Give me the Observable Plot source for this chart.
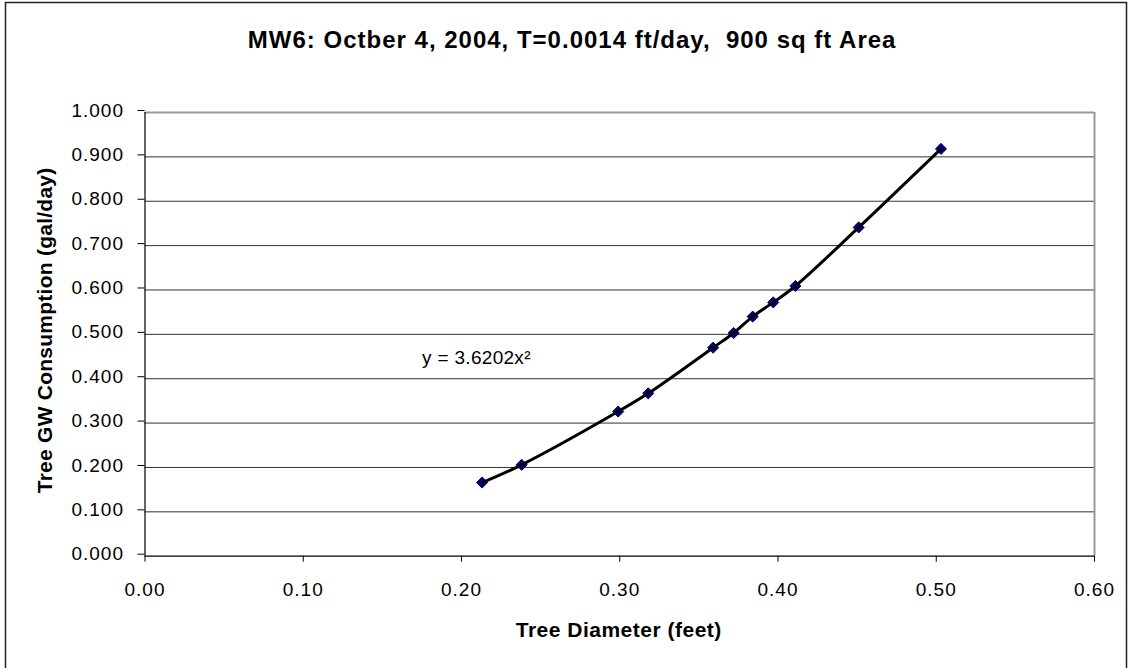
<!DOCTYPE html>
<html>
<head>
<meta charset="utf-8">
<script src="https://cdn.jsdelivr.net/npm/d3@7"></script>
<script src="https://cdn.jsdelivr.net/npm/@observablehq/plot@0.6"></script>
<style>
  html, body { margin: 0; padding: 0; background: #fff; }
  #chart { width: 1132px; height: 668px; overflow: hidden; }
</style>
</head>
<body>
<div id="chart"></div>
<script>
// ---- data ----
const diameter    = [0.213, 0.238, 0.299, 0.318, 0.359, 0.372, 0.384, 0.397, 0.411, 0.451, 0.503];
const consumption = [0.166, 0.206, 0.326, 0.367, 0.470, 0.503, 0.540, 0.572, 0.609, 0.741, 0.918];
const xTicks = [0.0, 0.1, 0.2, 0.3, 0.4, 0.5, 0.6];
const yTicks = [0.0, 0.1, 0.2, 0.3, 0.4, 0.5, 0.6, 0.7, 0.8, 0.9, 1.0];
const titleText = "MW6: Octber 4, 2004, T=0.0014 ft/day,  900 sq ft Area";
const xTitle = "Tree Diameter (feet)";
const yTitle = "Tree GW Consumption (gal/day)";
const equation = "y = 3.6202x²";

const points = diameter.map((d, i) => ({x: d, y: consumption[i]}));
const font = "Arial, 'Liberation Sans', sans-serif";

const chart = Plot.plot({
  width: 1132,
  height: 668,
  marginLeft: 144.5,
  marginRight: 38,
  marginTop: 112,
  marginBottom: 112.3,
  style: {fontFamily: font, fontSize: "19px", color: "#000", background: "#fff", letterSpacing: "1px"},
  x: {domain: [0, 0.6]},
  y: {domain: [0, 1]},
  marks: [
    Plot.ruleY(yTicks.filter(d => d > 0 && d < 1), {stroke: "#333", strokeWidth: 1}),
    Plot.ruleY([yTicks[yTicks.length - 1]], {stroke: "#999", strokeWidth: 2}),
    Plot.ruleX([xTicks[xTicks.length - 1]], {stroke: "#999", strokeWidth: 2}),
    Plot.axisX({ticks: xTicks, tickFormat: d3.format(".2f"), tickSize: 6, tickPadding: 20, label: null, fontSize: 19, stroke: "#000"}),
    Plot.axisY({ticks: yTicks, tickFormat: d3.format(".3f"), tickSize: 7, tickPadding: 14, dy: -2, label: null, fontSize: 19, stroke: "#000"}),
    Plot.ruleX([0], {stroke: "#000", strokeWidth: 1.2}),
    Plot.ruleY([0], {stroke: "#000", strokeWidth: 1.2}),
    Plot.dot(points, {x: "x", y: "y", symbol: "diamond2", r: 5, fill: "#000080", stroke: "#000080", strokeWidth: 1}),
    Plot.line(points, {x: "x", y: "y", stroke: "#000", strokeWidth: 3, curve: "catmull-rom"}),
    Plot.text([equation], {x: 0.1751, y: 0.434, text: d => d, textAnchor: "start", lineAnchor: "bottom", fontSize: 19, fill: "#000"}),
    Plot.text([titleText], {frameAnchor: "top", text: d => d, textAnchor: "middle", lineAnchor: "bottom", dx: -47.6, dy: -65, fontSize: 24, fontWeight: "bold", fill: "#000"}),
    Plot.text([xTitle], {frameAnchor: "bottom", text: d => d, textAnchor: "middle", lineAnchor: "bottom", dx: -1, dy: 81, fontSize: 21, fontWeight: "bold", fill: "#000"}),
    Plot.text([yTitle], {frameAnchor: "left", text: d => d, textAnchor: "middle", rotate: -90, lineAnchor: "bottom", dx: -92.8, dy: -4, fontSize: 21, fontWeight: "bold", fill: "#000"})
  ]
});

// letter spacing tweaks per text group
d3.select(chart).selectAll("text").filter(function() { return this.textContent === titleText; }).attr("letter-spacing", "1px");
d3.select(chart).selectAll("text").filter(function() { return this.textContent === xTitle; }).attr("letter-spacing", "0.5px");
d3.select(chart).selectAll("text").filter(function() { return this.textContent === yTitle; }).attr("letter-spacing", "0.25px");
d3.select(chart).selectAll("text").filter(function() { return this.textContent === equation; }).attr("letter-spacing", "0.3px");

// outer chart-area border
d3.select(chart).append("rect")
  .attr("x", 5.5).attr("y", 2.5)
  .attr("width", 1121).attr("height", 700)
  .attr("fill", "none").attr("stroke", "#222").attr("stroke-width", 1.5);

document.getElementById("chart").appendChild(chart);
</script>
</body>
</html>
